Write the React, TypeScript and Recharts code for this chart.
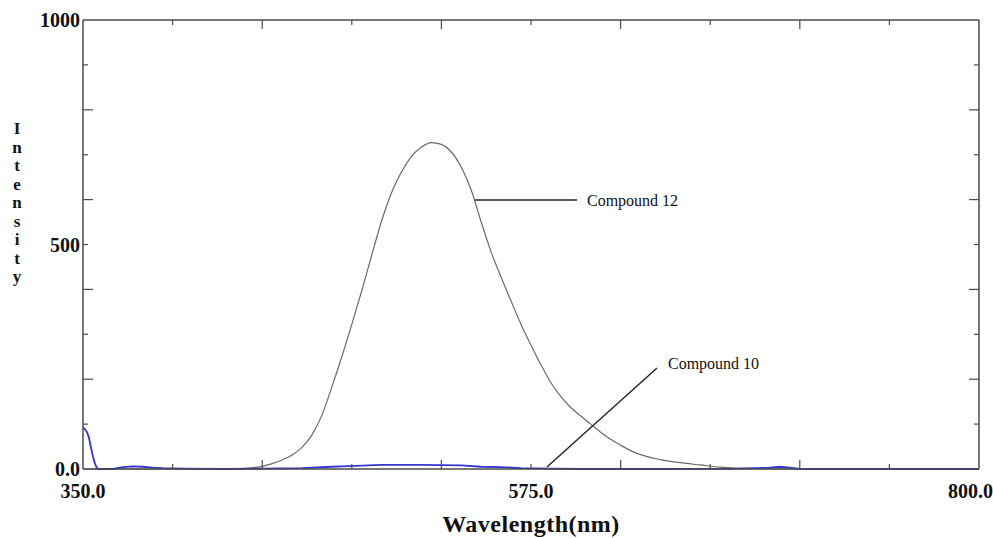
import React from 'react';
import { LineChart, Line, XAxis, YAxis, ReferenceLine, ReferenceDot } from 'recharts';

// emission spectra
const c12Wavelength = [350, 400, 430, 440, 445, 450, 455, 460, 465, 470, 475, 480, 485, 490, 495, 500, 505, 510, 515, 520, 525, 530, 535, 540, 545, 550, 555, 560, 565, 570, 575, 580, 585, 590, 595, 600, 605, 610, 615, 620, 625, 630, 640, 650, 660, 670, 680, 690, 700, 800];
const c12Intensity = [0, 0, 1, 6, 12, 20, 31, 48, 76, 120, 183, 250, 322, 397, 476, 553, 616, 662, 696, 717, 727, 723, 706, 672, 621, 550, 483, 427, 374, 322, 276, 232, 192, 161, 137, 118, 100, 82, 66, 53, 41, 32, 21, 14, 9, 4, 2, 1, 0, 0];

const c10Wavelength = [350, 351, 352, 353, 354, 355, 356, 357, 358, 365, 370, 375, 380, 385, 390, 400, 420, 440, 460, 475, 480, 500, 520, 540, 550, 560, 570, 585, 600, 640, 680, 695, 700, 705, 710, 800];
const c10Intensity = [92, 89, 82, 70, 48, 28, 12, 2, 0, 0, 4, 6, 5, 3, 2, 1, 0, 1, 2, 5, 6, 9, 9, 8, 5, 4, 2, 1, 0, 0, 1, 3, 5, 3, 0, 0];

const xTicks = [350, 395, 440, 485, 530, 575, 620, 665, 710, 755, 800];
const xLabels: Record<number, string> = { 350: '350.0', 575: '575.0', 800: '800.0' };
const yTicks = [0, 100, 200, 300, 400, 500, 600, 700, 800, 900, 1000];
const yLabels: Record<number, string> = { 0: '0.0', 500: '500', 1000: '1000' };

const c12Data = c12Wavelength.map((w, i) => ({ w, v: c12Intensity[i] }));
const c10Data = c10Wavelength.map((w, i) => ({ w, v: c10Intensity[i] }));

const font = 'Liberation Serif, Times New Roman, serif';
const axisColor = '#4a4a4a';

const isLongX = (v: number) => (v - 350) % 90 === 0;
const isLongY = (v: number) => v % 200 === 0;

const BottomTick = (props: any) => {
  const { x, y, payload } = props;
  const v = payload.value;
  const edge = v === 350 || v === 800;
  const label = xLabels[v];
  let anchor: 'middle' | 'end' = 'middle';
  let tx = x;
  if (v === 800) {
    anchor = 'end';
    tx = x + 14;
  }
  return (
    <g>
      {!edge && <line x1={x} x2={x} y1={y} y2={y - (isLongX(v) ? 9 : 5)} stroke={axisColor} strokeWidth={1.2} />}
      {label && (
        <text x={tx} y={y + 29} textAnchor={anchor} fontFamily={font} fontWeight="bold" fontSize={20} fill="#111">
          {label}
        </text>
      )}
    </g>
  );
};

const TopTick = (props: any) => {
  const { x, y, payload } = props;
  const v = payload.value;
  if (v === 350 || v === 800) return <g />;
  return <line x1={x} x2={x} y1={y} y2={y + (isLongX(v) ? 9 : 5)} stroke={axisColor} strokeWidth={1.2} />;
};

const LeftTick = (props: any) => {
  const { x, y, payload } = props;
  const v = payload.value;
  const label = yLabels[v];
  const edge = v === 0 || v === 1000;
  return (
    <g>
      {!edge && <line x1={x} x2={x + (isLongY(v) ? 10 : 5)} y1={y} y2={y} stroke={axisColor} strokeWidth={1.2} />}
      {label && (
        <text x={x - 3} y={y} dy="0.35em" textAnchor="end" fontFamily={font} fontWeight="bold" fontSize={20} fill="#111">
          {label}
        </text>
      )}
    </g>
  );
};

const RightTick = (props: any) => {
  const { x, y, payload } = props;
  const v = payload.value;
  if (v === 0 || v === 1000) return <g />;
  return <line x1={x} x2={x - (isLongY(v) ? 10 : 5)} y1={y} y2={y} stroke={axisColor} strokeWidth={1.2} />;
};

const IntensityLabel = (props: any) => {
  const vb = props.viewBox || { x: 0, y: 20 };
  const letters = 'Intensity'.split('');
  return (
    <text fontFamily={font} fontWeight="bold" fontSize={17} fill="#111" textAnchor="middle">
      {letters.map((ch, i) => (
        <tspan key={i} x={vb.x + 17} y={vb.y + 114 + i * 18.5}>
          {ch}
        </tspan>
      ))}
    </text>
  );
};

const WavelengthLabel = (props: any) => {
  const vb = props.viewBox || { x: 83, y: 469, width: 896 };
  return (
    <text x={vb.x + vb.width / 2} y={vb.y + 63} textAnchor="middle" fontFamily={font} fontWeight="bold" fontSize={24} letterSpacing={0.5} fill="#111">
      Wavelength(nm)
    </text>
  );
};

const annotationStyle = { fill: '#111', fontSize: 16, fontFamily: font };

const App = () => {
  return (
    <div style={{ position: 'absolute', left: 0, top: 0, background: '#fff' }}>
      <LineChart width={993} height={538} margin={{ top: 18, right: 10, bottom: 0, left: 0 }}>
        <XAxis
          dataKey="w"
          type="number"
          domain={[350, 800]}
          ticks={xTicks}
          interval={0}
          height={69}
          tickSize={0}
          tickMargin={0}
          tick={BottomTick}
          axisLine={{ stroke: axisColor, strokeWidth: 1.5 }}
          label={<WavelengthLabel />}
        />
        <XAxis
          xAxisId="top"
          orientation="top"
          dataKey="w"
          type="number"
          domain={[350, 800]}
          ticks={xTicks}
          interval={0}
          height={2}
          tickSize={0}
          tickMargin={0}
          tick={TopTick}
          axisLine={{ stroke: axisColor, strokeWidth: 1.5 }}
        />
        <YAxis
          type="number"
          domain={[0, 1000]}
          ticks={yTicks}
          interval={0}
          width={83}
          tickSize={0}
          tickMargin={0}
          tick={LeftTick}
          axisLine={{ stroke: axisColor, strokeWidth: 1.5 }}
          label={<IntensityLabel />}
        />
        <YAxis
          yAxisId="right"
          orientation="right"
          type="number"
          domain={[0, 1000]}
          ticks={yTicks}
          interval={0}
          width={4}
          tickSize={0}
          tickMargin={0}
          tick={RightTick}
          axisLine={{ stroke: axisColor, strokeWidth: 1.5 }}
        />
        <Line
          data={c12Data}
          dataKey="v"
          type="monotone"
          stroke="#6a6a6a"
          strokeWidth={1.2}
          dot={false}
          isAnimationActive={false}
        />
        {/* same domains, so the top/right frame axes get their ticks from this series */}
        <Line
          data={c10Data}
          dataKey="v"
          xAxisId="top"
          yAxisId="right"
          type="linear"
          stroke="#3535d0"
          strokeWidth={1.8}
          dot={false}
          isAnimationActive={false}
        />
        <ReferenceLine
          segment={[{ x: 546.9, y: 599 }, { x: 598.1, y: 599 }]}
          stroke="#222"
          strokeWidth={1.4}
        />
        <ReferenceDot x={598.1} y={599} r={0} stroke="none" fill="none" label={{ value: 'Compound 12', position: 'right', offset: 10, ...annotationStyle }} />
        <ReferenceLine
          segment={[{ x: 583.0, y: 4.5 }, { x: 638.3, y: 225 }]}
          stroke="#222"
          strokeWidth={1.4}
        />
        <ReferenceDot x={643.8} y={236} r={0} stroke="none" fill="none" label={{ value: 'Compound 10', position: 'right', offset: 0, ...annotationStyle }} />
      </LineChart>
    </div>
  );
};

export default App;
